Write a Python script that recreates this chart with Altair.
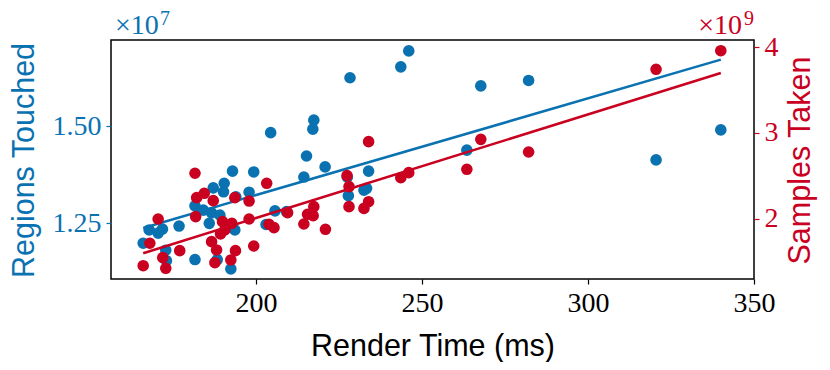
import altair as alt
import pandas as pd

# Regions Touched (x1e7) vs render time
blue_x = [228.3, 204.4, 217.4, 217.1, 215.2, 220.8, 214.4, 192.9, 199.3, 190.4,
          187.1, 190.2, 197.9, 193.9, 181.6, 184.1, 186.6, 189.1, 185.9, 193.6,
          203.0, 205.7, 209.2, 167.8, 171.8, 170.5, 176.8, 166.0, 172.8, 173.0,
          181.6, 188.3, 192.4, 243.6, 246.0, 267.7, 282.1, 340.0, 320.5, 263.5,
          233.9, 233.3, 232.5, 227.8, 227.5]
blue_y = [1.624, 1.483, 1.515, 1.492, 1.423, 1.395, 1.369, 1.384, 1.382, 1.353,
          1.341, 1.331, 1.330, 1.318, 1.295, 1.284, 1.277, 1.271, 1.250, 1.233,
          1.247, 1.282, 1.280, 1.233, 1.235, 1.225, 1.243, 1.199, 1.181, 1.154,
          1.157, 1.157, 1.133, 1.652, 1.693, 1.603, 1.617, 1.490, 1.413, 1.438,
          1.384, 1.340, 1.335, 1.321, 1.369]

# Samples Taken (x1e9) vs render time
red_x = [181.6, 203.2, 182.1, 184.4, 187.1, 193.6, 197.9, 170.5, 181.8, 189.9,
         192.7, 190.6, 197.9, 189.3, 203.9, 205.4, 209.5, 214.4, 215.5, 217.2,
         217.4, 220.9, 227.4, 228.0, 228.0, 168.0, 186.6, 188.1, 193.8, 199.3,
         177.0, 171.9, 166.0, 172.8, 187.6, 192.4, 340.0, 320.5, 233.9, 267.7,
         282.1, 263.5, 243.6, 246.0, 233.9, 232.5]
red_y = [2.530, 2.413, 2.245, 2.296, 2.210, 2.245, 2.206, 1.996, 2.024, 1.965,
         1.946, 1.868, 1.996, 1.821, 1.935, 1.895, 2.070, 1.938, 2.051, 2.035,
         2.140, 1.876, 2.502, 2.374, 2.140, 1.713, 1.732, 1.635, 1.627, 1.681,
         1.627, 1.545, 1.451, 1.421, 1.486, 1.518, 3.960, 3.743, 2.899, 2.926,
         2.778, 2.576, 2.478, 2.537, 2.198, 2.120]

x_ticks = [200, 250, 300, 350]
left_ticks = [1.25, 1.50]
right_ticks = [2, 3, 4]

BLUE = "#0a72b1"
RED = "#c9001f"
W, H = 643, 239

blue_df = pd.DataFrame({"t": blue_x, "v": blue_y})
red_df = pd.DataFrame({"t": red_x, "v": red_y})

xscale = alt.Scale(domain=[156.3, 350], nice=False, zero=False)
xenc = alt.X("t:Q", scale=xscale, axis=alt.Axis(
    values=x_ticks, format="d", title="Render Time (ms)", labelFlush=False,
    tickColor="black", labelColor="black", titleColor="black",
    titleY=76, titleBaseline="alphabetic"))

lscale = alt.Scale(domain=[1.107, 1.721], nice=False, zero=False)
rscale = alt.Scale(domain=[1.296, 4.085], nice=False, zero=False)

laxis = alt.Axis(values=left_ticks, format=".2f", orient="left",
                 title="Regions Touched", tickColor=BLUE, labelColor=BLUE,
                 titleColor=BLUE, titleAngle=270, titleX=-78, titleY=120,
                 titleBaseline="alphabetic", titleAlign="center")
raxis = alt.Axis(values=right_ticks, format="d", orient="right",
                 title="Samples Taken", tickColor=RED, labelColor=RED,
                 titleColor=RED, titleAngle=270, titleX=55, titleY=120,
                 titleBaseline="alphabetic", titleAlign="center")

bpts = alt.Chart(blue_df).mark_circle(size=135, opacity=1, color=BLUE).encode(
    x=xenc, y=alt.Y("v:Q", scale=lscale, axis=laxis))
bline = alt.Chart(blue_df).transform_regression("t", "v").mark_line(
    color=BLUE, strokeWidth=2.5).encode(x=alt.X("t:Q", scale=xscale),
                                         y=alt.Y("v:Q", scale=lscale))
rpts = alt.Chart(red_df).mark_circle(size=135, opacity=1, color=RED).encode(
    x=alt.X("t:Q", scale=xscale), y=alt.Y("v:Q", scale=rscale, axis=raxis))
rline = alt.Chart(red_df).transform_regression("t", "v").mark_line(
    color=RED, strokeWidth=2.5).encode(x=alt.X("t:Q", scale=xscale),
                                        y=alt.Y("v:Q", scale=rscale))

one = alt.Data(values=[{"a": 1}])
def txt(s, x, y, size, color, align):
    return alt.Chart(one).mark_text(text=s, font="Liberation Serif", fontSize=size,
                                    color=color, align=align, baseline="alphabetic").encode(
        x=alt.value(x), y=alt.value(y))

ann = alt.layer(
    txt("×10", 4, -6, 28, BLUE, "left"),
    txt("7", 49, -15, 20, BLUE, "left"),
    txt("×10", 631, -6, 28, RED, "right"),
    txt("9", 643, -15, 20, RED, "right"),
)

chart = alt.layer(
    alt.layer(bpts, bline),
    alt.layer(rpts, rline),
    ann,
).resolve_scale(y="independent").properties(
    width=W, height=H,
    padding={"left": 103, "top": 32, "right": 68, "bottom": 83},
    autosize=alt.AutoSizeParams(type="none"),
).configure_view(stroke="black", strokeWidth=1.5).configure_axis(
    domain=False, grid=False, tickSize=5, tickWidth=1.2,
    labelFont="Liberation Serif", labelFontSize=28, labelPadding=5,
    titleFont="Liberation Sans", titleFontSize=30.5, titleFontWeight="normal",
)

chart.save("out.html", embed_options={"renderer": "svg", "actions": False})
